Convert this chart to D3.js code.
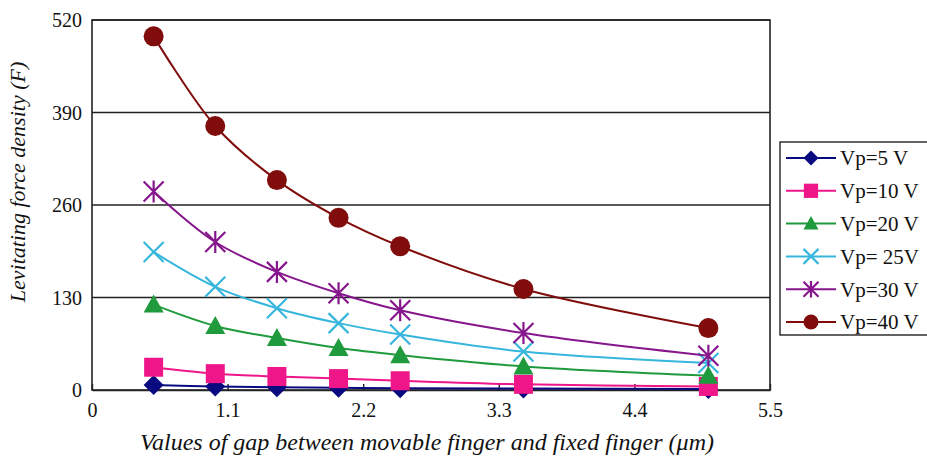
<!DOCTYPE html>
<html>
<head>
<meta charset="utf-8">
<script src="https://cdn.jsdelivr.net/npm/d3@7/dist/d3.min.js"></script>
<style>
  html, body { margin: 0; padding: 0; background: #fff; }
  svg { display: block; }
  text { font-family: "Liberation Serif", "Times New Roman", serif; fill: #111; }
</style>
</head>
<body>
<svg id="chart" width="927" height="457"></svg>
<script>
// Gap between movable and fixed finger (µm)
const gaps = [0.5, 1.0, 1.5, 2.0, 2.5, 3.5, 5.0];

// Levitating force density for each plate voltage
const vp5  = [7, 5, 4, 3, 2.5, 2, 1.5];
const vp10 = [32, 23, 19, 16, 13, 8, 5];
const vp20 = [120, 90, 73, 59, 49, 33, 20];
const vp25 = [194, 145, 115, 94, 78, 54, 38];
const vp30 = [279, 208, 166, 136, 112, 80, 48];
const vp40 = [497, 371, 295, 242, 202, 142, 87];

const seriesNames = ["Vp=5 V", "Vp=10 V", "Vp=20 V", "Vp= 25V", "Vp=30 V", "Vp=40 V"];
const seriesColors = ["#0a0a80", "#ee1689", "#1f9a3c", "#36b6dc", "#86168c", "#800c0c"];
const seriesShapes = ["diamond", "square", "triangle", "cross", "asterisk", "circle"];
const seriesValues = [vp5, vp10, vp20, vp25, vp30, vp40];

const xTicks = [0, 1.1, 2.2, 3.3, 4.4, 5.5];
const yTicks = [0, 130, 260, 390, 520];

const plot = { left: 92, top: 20, right: 770, bottom: 390 };

const svg = d3.select("#chart");
const x = d3.scaleLinear().domain([0, 5.5]).range([plot.left, plot.right]);
const y = d3.scaleLinear().domain([0, 520]).range([plot.bottom, plot.top]);

// horizontal gridlines
svg.append("g")
  .selectAll("line")
  .data(yTicks.filter(v => v > 0))
  .join("line")
  .attr("x1", plot.left).attr("x2", plot.right)
  .attr("y1", d => y(d)).attr("y2", d => y(d))
  .attr("stroke", "#222").attr("stroke-width", 1.6);

// plot frame
svg.append("rect")
  .attr("x", plot.left).attr("y", plot.top)
  .attr("width", plot.right - plot.left).attr("height", plot.bottom - plot.top)
  .attr("fill", "none").attr("stroke", "#222").attr("stroke-width", 1.6);

// x axis: inward ticks, labels below
const xAxis = d3.axisBottom(x).tickValues(xTicks).tickSizeInner(-6).tickSizeOuter(0)
  .tickFormat(d => d === 0 ? "0" : d3.format(".1f")(d));
const gx = svg.append("g").attr("transform", `translate(0,${plot.bottom})`).call(xAxis);
gx.select(".domain").attr("stroke", "#222").attr("stroke-width", 1.6);
gx.selectAll(".tick line").attr("stroke", "#222").attr("stroke-width", 1.4);
gx.selectAll(".tick text")
  .attr("dy", null).attr("y", 27)
  .style("font-family", '"Liberation Serif", serif').style("font-size", "20px").attr("fill", "#111");

// y axis labels
const yAxis = d3.axisLeft(y).tickValues(yTicks).tickSize(0).tickPadding(10);
const gy = svg.append("g").attr("transform", `translate(${plot.left},0)`).call(yAxis);
gy.select(".domain").remove();
gy.selectAll(".tick text")
  .attr("dy", "0.34em")
  .style("font-family", '"Liberation Serif", serif').style("font-size", "20px").attr("fill", "#111");

// axis titles
svg.append("text")
  .attr("x", 427).attr("y", 450)
  .attr("text-anchor", "middle")
  .style("font-size", "24px").style("font-style", "italic")
  .text("Values of gap between movable finger and fixed finger (\u03bcm)");

svg.append("text")
  .attr("transform", "translate(25,182) rotate(-90)")
  .attr("text-anchor", "middle")
  .style("font-size", "22px").style("font-style", "italic")
  .text("Levitating force density (F)");

// marker drawing
function drawMarker(g, shape, color, size) {
  const s = size / 2;
  switch (shape) {
    case "diamond":
      g.append("path").attr("d", `M0,${-s}L${s},0L0,${s}L${-s},0Z`).attr("fill", color);
      break;
    case "square":
      g.append("rect").attr("x", -s * 0.95).attr("y", -s * 0.95)
        .attr("width", s * 1.9).attr("height", s * 1.9).attr("fill", color);
      break;
    case "triangle":
      g.append("path").attr("d", `M0,${-s}L${s},${s * 0.8}L${-s},${s * 0.8}Z`).attr("fill", color);
      break;
    case "cross":
      g.append("path").attr("d", `M${-s},${-s}L${s},${s}M${-s},${s}L${s},${-s}`)
        .attr("stroke", color).attr("stroke-width", 2.2).attr("fill", "none");
      break;
    case "asterisk":
      g.append("path").attr("d", `M${-s},${-s}L${s},${s}M${-s},${s}L${s},${-s}M0,${-s * 1.1}L0,${s * 1.1}`)
        .attr("stroke", color).attr("stroke-width", 2.2).attr("fill", "none");
      break;
    case "circle":
      g.append("circle").attr("r", s).attr("fill", color);
      break;
  }
}

const line = d3.line()
  .x((d, i) => x(gaps[i]))
  .y(d => y(d))
  .curve(d3.curveCatmullRom.alpha(0.5));

seriesValues.forEach((vals, k) => {
  const g = svg.append("g");
  g.append("path").datum(vals)
    .attr("d", line)
    .attr("fill", "none")
    .attr("stroke", seriesColors[k])
    .attr("stroke-width", 2);
  vals.forEach((v, i) => {
    const m = g.append("g").attr("transform", `translate(${x(gaps[i])},${y(v)})`);
    drawMarker(m, seriesShapes[k], seriesColors[k], 20);
  });
});

// legend
const legend = svg.append("g");
legend.append("rect")
  .attr("x", 780).attr("y", 142).attr("width", 160).attr("height", 193)
  .attr("fill", "#fff").attr("stroke", "#222").attr("stroke-width", 1.4);

seriesNames.forEach((name, k) => {
  const ly = 158 + k * 32.8;
  const row = legend.append("g");
  row.append("line").attr("x1", 786).attr("x2", 836).attr("y1", ly).attr("y2", ly)
    .attr("stroke", seriesColors[k]).attr("stroke-width", 2);
  const m = row.append("g").attr("transform", `translate(811,${ly})`);
  drawMarker(m, seriesShapes[k], seriesColors[k], 15);
  row.append("text").attr("x", 840).attr("y", ly).attr("dy", "0.35em")
    .style("font-size", "21px").text(name);
});
</script>
</body>
</html>
